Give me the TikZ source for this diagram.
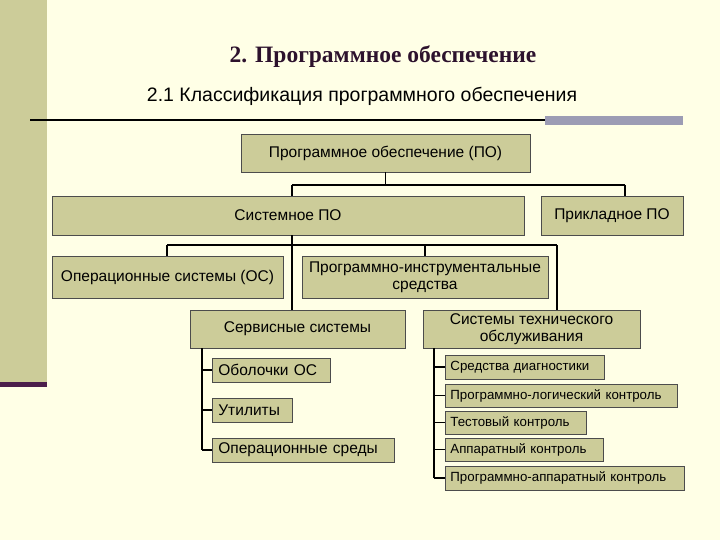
\documentclass[tikz,border=0pt]{standalone}
\usepackage{fontspec}
\setmainfont{Liberation Sans}
\newfontfamily\titlefont{Liberation Serif}
\definecolor{bg}{HTML}{FFFFE6}
\definecolor{strip}{HTML}{CCCC99}
\definecolor{boxf}{HTML}{CCCC99}
\definecolor{purp}{HTML}{4B1E4B}
\definecolor{barc}{HTML}{9C9CB4}
\begin{document}
\begin{tikzpicture}[x=1pt,y=-1pt,
  bx/.style={draw=black!70,line width=0.8pt,fill=boxf,inner sep=0pt,font=\fontsize{15.5}{17}\selectfont,align=center},
  lb/.style={draw=black!70,line width=0.8pt,fill=boxf,inner ysep=0pt,inner xsep=6pt,font=\fontsize{15.5}{17}\selectfont,align=left,anchor=west},
  sm/.style={draw=black!70,line width=0.8pt,fill=boxf,inner ysep=0pt,inner xsep=5pt,font=\fontsize{13.3}{15}\selectfont,align=left,anchor=west},
  ln/.style={line width=1.6pt,black}]
\fill[bg] (0,0) rectangle (720,540);
\useasboundingbox (0,0) rectangle (720,540);
\fill[strip] (0,0) rectangle (47,384);
\fill[purp] (0,382) rectangle (47,387);
\draw[line width=2pt] (30,120) -- (545,120);
\fill[barc] (545,116) rectangle (683,125);
\node[font=\titlefont\bfseries\fontsize{23.5}{25}\selectfont,text=purp!60!black] (title) at (383,57) {2. Программное обеспечение};
\node[font=\fontsize{19.5}{21}\selectfont] (sub) at (362,96) {2.1 Классификация программного обеспечения};
% boxes
\node[bx,minimum width=289,minimum height=38] (po) at (385.5,153) {Программное обеспечение (ПО)};
\node[bx,minimum width=472,minimum height=39] (sys) at (288,215.5) {Системное ПО};
\node[bx,minimum width=142,minimum height=39] (app) at (612,215.5) {Прикладное ПО};
\node[bx,minimum width=231,minimum height=42] (os) at (167.5,277) {Операционные системы (ОС)};
\node[bx,minimum width=246,minimum height=42] (pis) at (425,277) {Программно-инструментальные\\средства};
\node[bx,minimum width=215,minimum height=38] (serv) at (297.5,329) {Сервисные системы};
\node[bx,minimum width=217,minimum height=38] (tech) at (531.5,329) {Системы технического\\обслуживания};
\node[lb,text width=106,minimum height=24] (obol) at (212,370) {Оболочки ОС};
\node[lb,text width=68,minimum height=24] (util) at (212,410) {Утилиты};
\node[lb,text width=170,minimum height=24] (sred) at (212,450) {Операционные среды};
\node[sm,text width=149,minimum height=24] (diag) at (445,367) {Средства диагностики};
\node[sm,text width=222,minimum height=23] (plk) at (445,395.5) {Программно-логический контроль};
\node[sm,text width=131,minimum height=23] (test) at (445,422.5) {Тестовый контроль};
\node[sm,text width=148,minimum height=23] (appk) at (445,449.5) {Аппаратный контроль};
\node[sm,text width=229,minimum height=24] (pak) at (445,478) {Программно-аппаратный контроль};
% connectors
\coordinate (j1) at (385.5,185);
\draw[ln] (po.south) -- (j1);
\draw[ln] (292,185) -- (625,185);
\draw[ln] (292,185) -- (292,196);
\draw[ln] (625,185) -- (625,196);
\draw[ln] (292,235) -- (serv.north -| 292,0);
\draw[ln] (167,245) -- (557,245);
\draw[ln] (167,245) -- (os.north -| 167,0);
\draw[ln] (425,245) -- (pis.north);
\draw[ln] (557,245) -- (557,310);
\draw[ln] (202,348) -- (202,450);
\foreach \n in {obol,util,sred} \draw[ln] (202,0 |- \n.west) -- (\n.west);
\draw[ln] (434,348) -- (434,478);
\foreach \n in {diag,plk,test,appk,pak} \draw[ln] (434,0 |- \n.west) -- (\n.west);
\end{tikzpicture}
\end{document}
